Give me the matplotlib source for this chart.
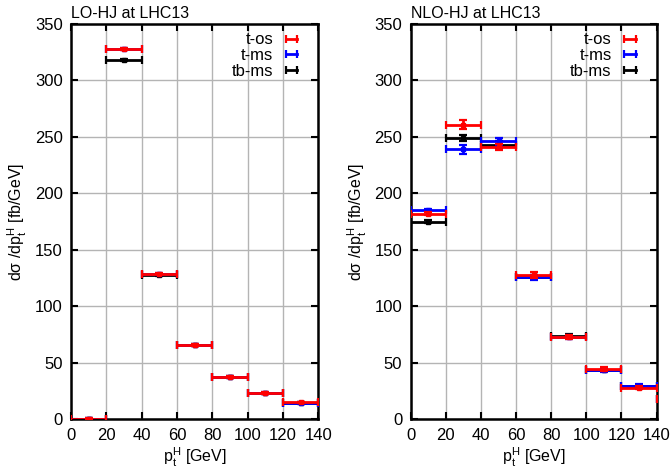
import numpy as np
import matplotlib
matplotlib.use('Agg')
import matplotlib.pyplot as plt
from matplotlib.lines import Line2D

plt.rcParams['font.family'] = ['Liberation Sans', 'DejaVu Sans']
plt.rcParams['mathtext.fontset'] = 'custom'
plt.rcParams['mathtext.rm'] = 'Liberation Sans'
plt.rcParams['mathtext.it'] = 'Liberation Sans'
plt.rcParams['font.size'] = 11

# bin edges in pt^H [GeV]
lo_edges = [0, 20, 40, 60, 80, 100, 120, 140]
nlo_edges = [0, 20, 40, 60, 80, 100, 120, 140, 160]

# LO-HJ values [fb/GeV]
lo_tos = [0.5, 328, 129, 66, 37.8, 23, 14.8]
lo_tms = [0.5, 328, 128.5, 66, 37.5, 23, 14.7]
lo_tbms = [0.4, 318, 128, 65.5, 37.3, 22.8, 14.6]

# NLO-HJ values and errors [fb/GeV]
nlo_tos = [182, 261, 241, 127.5, 73, 44.5, 27.8, 18]
nlo_tos_err = [1.5, 4, 3, 2.5, 2, 1.5, 1.5, 1]
nlo_tms = [185, 239, 246, 125.5, 73, 43.7, 29.8, 18]
nlo_tms_err = [1.5, 4, 3, 2, 2, 1.5, 1, 1]
nlo_tbms = [175, 249, 243, 126, 73.5, 44, 29, 18]
nlo_tbms_err = [1.5, 3, 3, 2, 2, 1.5, 1, 1]

labels = ['t-os', 't-ms', 'tb-ms']
colors = ['#ff0000', '#0000ff', '#000000']
zorders = [5, 4, 3]


def draw(ax, edges, series, errs, title):
    e = np.array(edges, dtype=float)
    xc = (e[:-1] + e[1:]) / 2
    xw = (e[1:] - e[:-1]) / 2
    for vals, err, c, z in zip(series, errs, colors, zorders):
        ax.errorbar(xc, vals, xerr=xw, yerr=err, fmt='s', ms=3.5, color=c,
                    ecolor=c, elinewidth=2, capsize=3, capthick=1.6,
                    zorder=z, clip_on=True)
    ax.set_xlim(0, 140)
    ax.set_ylim(0, 350)
    ax.set_xticks(range(0, 141, 20))
    ax.set_yticks(range(0, 351, 50))
    ax.grid(True, color='#b4b4b4', lw=1)
    ax.set_axisbelow(True)
    ax.tick_params(direction='in', top=True, right=True, length=5, width=1.5,
                   labelsize=12, pad=6)
    for s in ax.spines.values():
        s.set_linewidth(1.8)
    ax.set_xlabel(r'$\mathregular{p_t^H}$ [GeV]', fontsize=11.5, labelpad=2)
    ax.set_ylabel(r'd$\sigma$ /dp$\mathregular{_t^H}$ [fb/GeV]', fontsize=11.5,
                  labelpad=4)
    ax.text(0, 1.008, title, transform=ax.transAxes, ha='left', va='bottom',
            fontsize=11.5)
    handles = [Line2D([0, 1], [0, 0], color=c, lw=2, marker='|', ms=6,
                      mew=1.6) for c in colors]
    ax.legend(handles, labels, loc='upper right', bbox_to_anchor=(0.97, 1.0),
              frameon=False, markerfirst=False, numpoints=2,
              handlelength=1.3, handletextpad=0.45, labelspacing=0.05,
              borderaxespad=0.2, borderpad=0.3, fontsize=12)


fig = plt.figure(figsize=(6.7, 4.71), dpi=100)
ax1 = fig.add_axes([0.106, 0.110, 0.369, 0.839])
ax2 = fig.add_axes([0.613, 0.110, 0.367, 0.839])

draw(ax1, lo_edges, [lo_tos, lo_tms, lo_tbms], [0.8, 0.8, 0.8], 'LO-HJ at LHC13')
draw(ax2, nlo_edges, [nlo_tos, nlo_tms, nlo_tbms],
     [nlo_tos_err, nlo_tms_err, nlo_tbms_err], 'NLO-HJ at LHC13')

fig.savefig('out.png', dpi=100)
